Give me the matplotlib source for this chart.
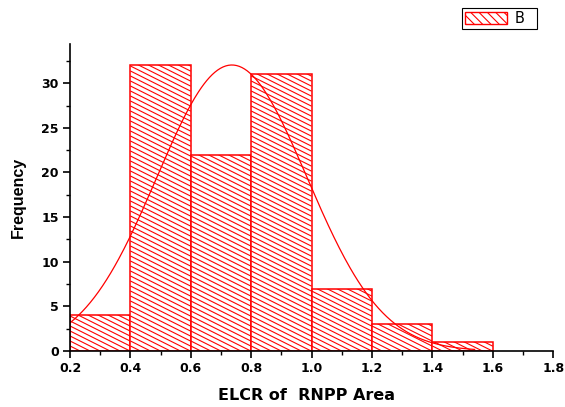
import numpy as np
import matplotlib
matplotlib.use("Agg")
from matplotlib import pyplot as plt
from matplotlib.ticker import MultipleLocator
from matplotlib.collections import LineCollection
from matplotlib.patches import Patch

plt.rcParams['font.family'] = ['DejaVu Sans']
plt.rcParams['hatch.linewidth'] = 0.8
plt.rcParams['hatch.color'] = 'red'

# histogram bins and counts
bin_left = [0.2, 0.4, 0.6, 0.8, 1.0, 1.2, 1.4]
bin_width = 0.2
counts = [4, 32, 22, 31, 7, 3, 1]

# normal fit parameters
fit_mean = 0.736
fit_sd = 0.249
fit_start, fit_end = 0.2, 1.54

fig = plt.figure(figsize=(5.65, 4.07), dpi=100)
ax = fig.add_axes([0.124, 0.1376, 0.855, 0.7544])
ax.set_xlim(0.2, 1.8)
ax.set_ylim(0, 34.4)

bars = ax.bar(bin_left, counts, width=bin_width, align='edge',
              facecolor='white', edgecolor='red', linewidth=1.1, zorder=2)

# shallow hatch lines, spaced in pixels and clipped to each bar
fig.canvas.draw()
to_px = ax.transData
to_data = ax.transData.inverted()
slope_px = 0.5
gap_px = 5.0
for rect in bars:
    x0, y0 = rect.get_x(), rect.get_y()
    x1, y1 = x0 + rect.get_width(), y0 + rect.get_height()
    (px0, py0), (px1, py1) = to_px.transform([(x0, y0), (x1, y1)])
    segs = []
    c = py0 - slope_px * (px1 - px0)
    while c < py1 + gap_px:
        seg = [(px0, c + slope_px * (px1 - px0)), (px1, c)]
        segs.append(to_data.transform(seg))
        c += gap_px
    lc = LineCollection(segs, colors='red', linewidths=0.8, zorder=2.5)
    ax.add_collection(lc)
    lc.set_clip_path(rect)

n = sum(counts)
xs = np.linspace(fit_start, fit_end, 300)
ys = n * bin_width / (fit_sd * np.sqrt(2 * np.pi)) * np.exp(-(xs - fit_mean) ** 2 / (2 * fit_sd ** 2))
ax.plot(xs, ys, color='red', linewidth=0.9, zorder=3)

ax.xaxis.set_major_locator(MultipleLocator(0.2))
ax.xaxis.set_minor_locator(MultipleLocator(0.1))
ax.yaxis.set_major_locator(MultipleLocator(5))
ax.yaxis.set_minor_locator(MultipleLocator(2.5))
ax.xaxis.set_major_formatter(plt.FuncFormatter(lambda v, p: "%.1f" % v))

for s in ['top', 'right']:
    ax.spines[s].set_visible(False)
for s in ['left', 'bottom']:
    ax.spines[s].set_linewidth(1.2)
    ax.spines[s].set_zorder(4)

ax.tick_params(which='major', direction='out', length=5, width=1.2,
               labelsize=9, pad=3)
ax.tick_params(which='minor', direction='out', length=3, width=1.0)
for lbl in ax.get_xticklabels() + ax.get_yticklabels():
    lbl.set_fontweight('bold')

ax.set_xlabel("ELCR of  RNPP Area", fontsize=11.5, fontweight='bold')
ax.xaxis.set_label_coords(0.49, -0.122)
ax.set_ylabel("Frequency", fontsize=11.5, fontweight='bold',
              family='Liberation Sans')
ax.yaxis.set_label_coords(-0.091, 0.5)

handle = Patch(facecolor='white', edgecolor='red', hatch='\\\\\\\\', linewidth=1.0)
leg = fig.legend(handles=[handle], labels=['B'], loc='upper left',
                 bbox_to_anchor=(462 / 565, 1 - 8 / 407), fancybox=False,
                 edgecolor='black', framealpha=1, fontsize=10.5,
                 handlelength=2.85, handleheight=0.85, borderpad=0.22,
                 handletextpad=0.55, borderaxespad=0)
leg.get_frame().set_linewidth(0.8)
for t in leg.get_texts():
    t.set_text('B  ')

fig.savefig("out.png", dpi=100)
